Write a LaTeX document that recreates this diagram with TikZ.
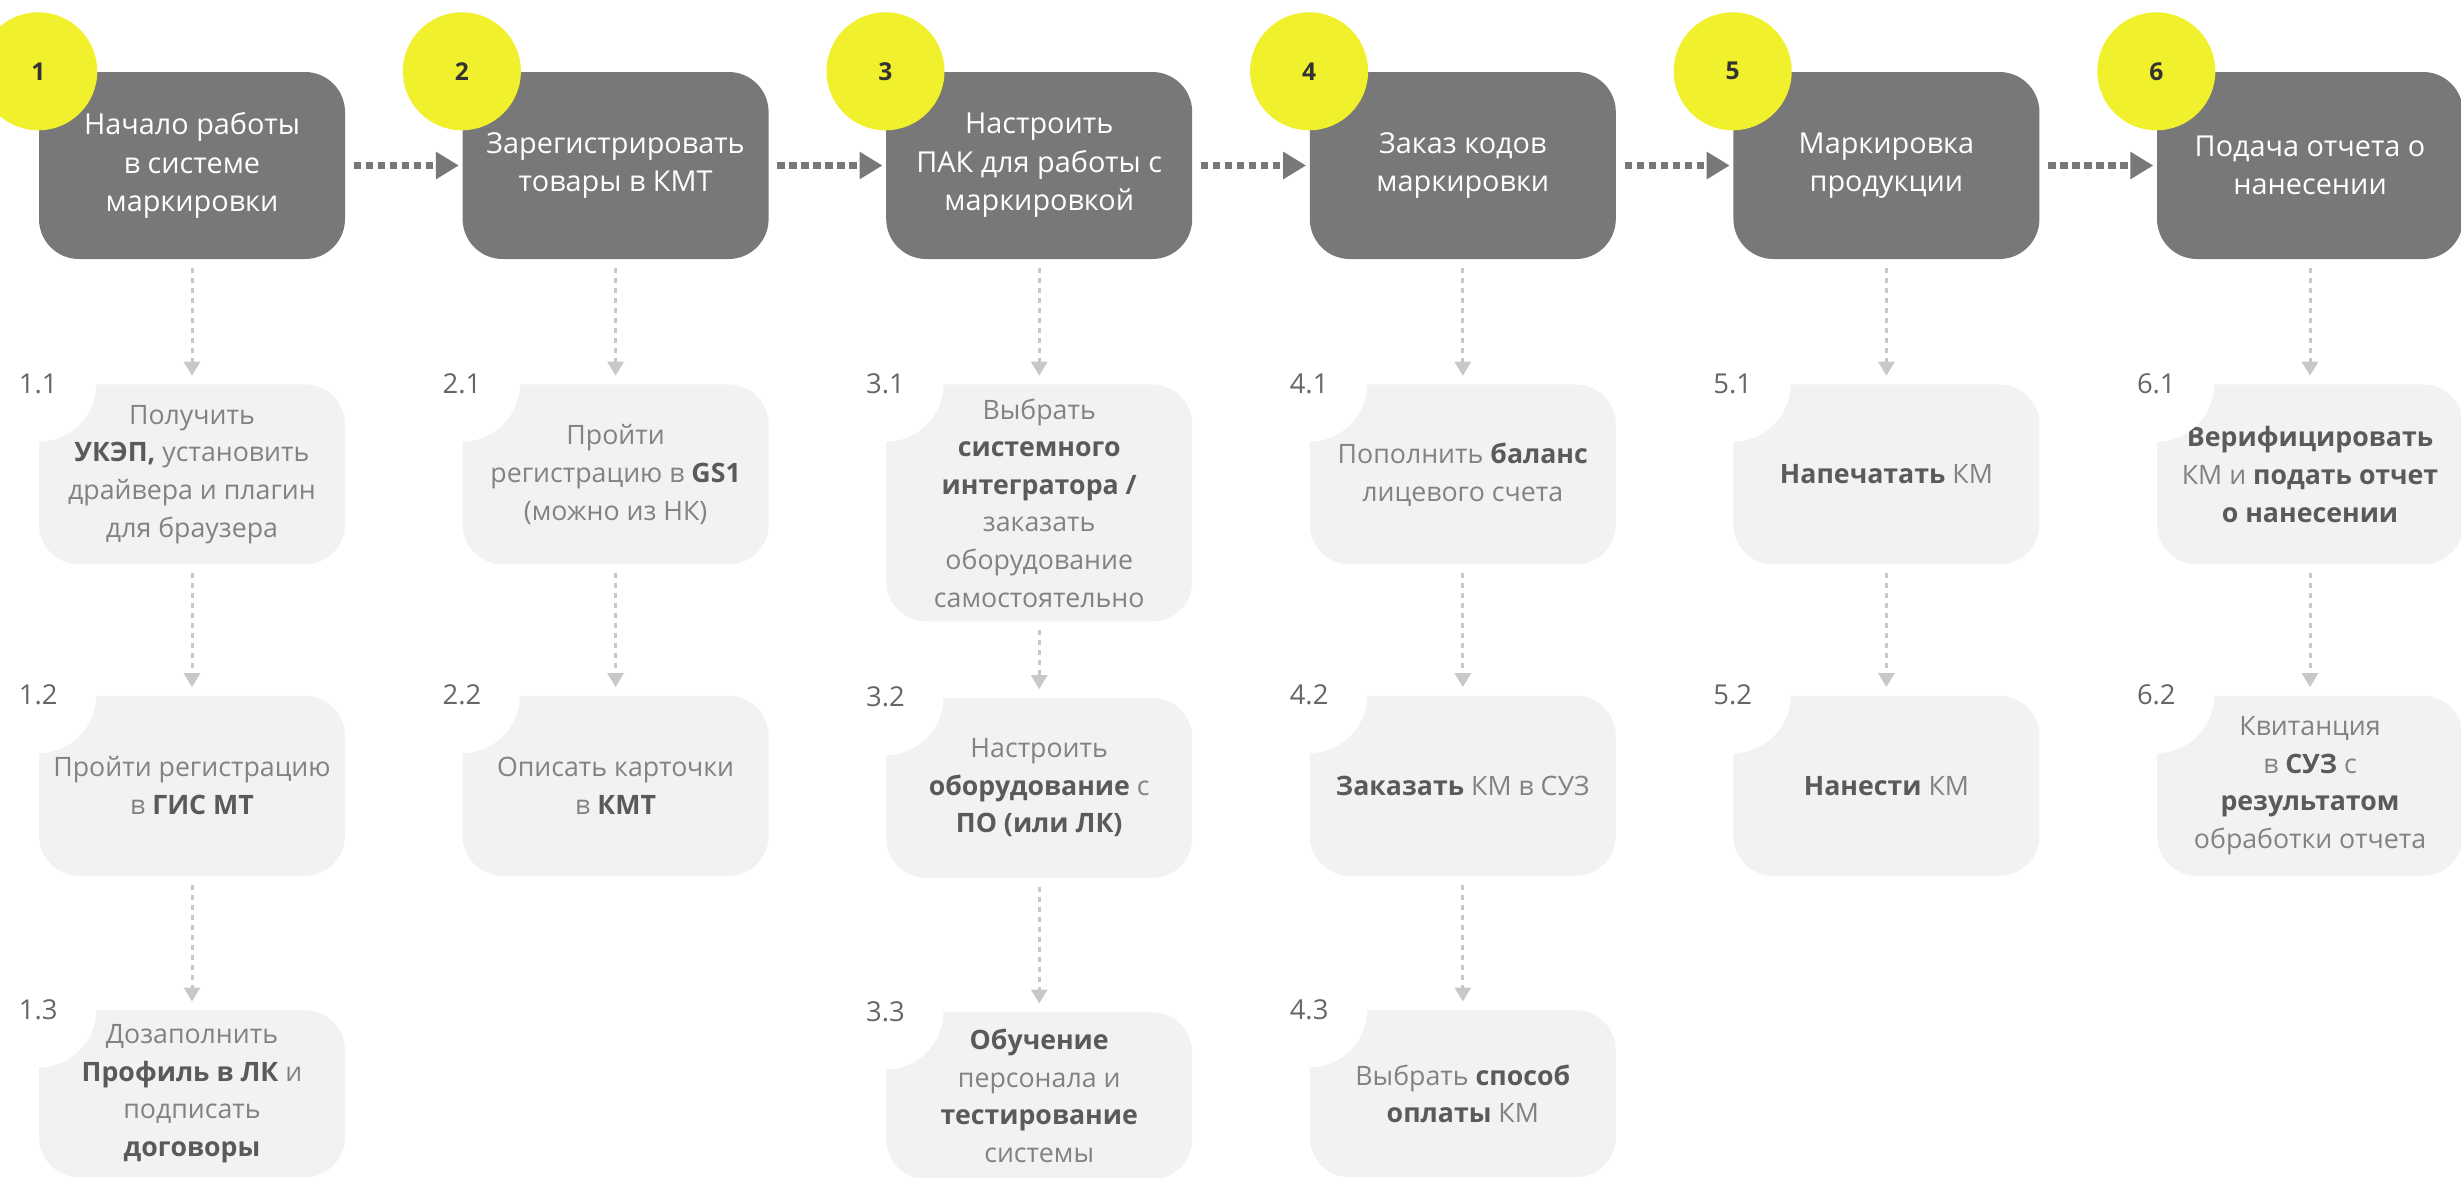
\documentclass[tikz,border=0pt]{standalone}
\usepackage{fontspec}
\setmainfont{Open Sans}
\usetikzlibrary{arrows.meta,positioning}
\definecolor{stepgray}{HTML}{787878}
\definecolor{subfill}{HTML}{F2F2F2}
\definecolor{subtext}{HTML}{828282}
\definecolor{subbold}{HTML}{5A5A5A}
\definecolor{marker}{HTML}{F0F02D}
\definecolor{linkgray}{HTML}{C8C8C8}
\newcommand{\kw}[1]{\textbf{\color{subbold}#1}}
\tikzset{
  stepbox/.style={fill=stepgray, rounded corners=4mm, minimum width=3.06cm,
    minimum height=1.87cm, align=center, text=white, inner sep=2pt,
    font=\fontsize{8.2}{11}\selectfont},
  subbox/.style={fill=subfill, rounded corners=4mm, minimum width=3.06cm,
    minimum height=1.8cm, align=center, text=subtext, inner sep=2pt,
    font=\fontsize{7.6}{10.7}\selectfont},
  numdot/.style={circle, fill=marker, minimum size=1.18cm, inner sep=0pt,
    text=black!80, font=\fontsize{7}{8}\selectfont\bfseries},
  numgap/.style={circle, fill=white, minimum size=1.16cm, inner sep=0pt,
    text=black!60, font=\fontsize{7.8}{9}\selectfont},
  mainarrw/.style={-{Triangle[length=2.3mm, width=2.6mm]}, draw=stepgray,
    line width=0.7mm, dash pattern=on 0.75mm off 0.45mm,
    shorten <=0.08cm, shorten >=0.03cm},
  subarrw/.style={-{Triangle[length=1.4mm, width=1.6mm]}, draw=linkgray,
    line width=0.3mm, dash pattern=on 0.5mm off 0.5mm,
    shorten <=0.08cm, shorten >=0.08cm},
}
\begin{document}
\begin{tikzpicture}[node distance=1.24cm and 1.162cm]
  \useasboundingbox (0,0) rectangle (24.61,-11.77);

  % main steps
  \node[stepbox] (st1) at (1.92,-1.655) {Начало работы\\в системе\\маркировки};
  \node[stepbox, right=of st1] (st2) {Зарегистрировать\\товары в КМТ};
  \node[stepbox, right=of st2] (st3) {Настроить\\ПАК для работы с\\маркировкой};
  \node[stepbox, right=of st3] (st4) {Заказ кодов\\маркировки};
  \node[stepbox, right=of st4] (st5) {Маркировка\\продукции};
  \node[stepbox, right=of st5] (st6) {Подача отчета о\\нанесении};

  % sub steps
  \node[subbox, below=of st1] (sub11)
    {Получить\\\kw{УКЭП,} установить\\драйвера и плагин\\для браузера};
  \node[subbox, below=1.3cm of sub11] (sub12)
    {Пройти регистрацию\\в \kw{ГИС МТ}};
  \node[subbox, below=1.33cm of sub12, minimum height=1.67cm] (sub13)
    {Дозаполнить\\\kw{Профиль в ЛК} и\\подписать\\\kw{договоры}};

  \node[subbox, below=of st2] (sub21)
    {Пройти\\регистрацию в \kw{GS1}\\(можно из НК)};
  \node[subbox, below=1.3cm of sub21] (sub22)
    {Описать карточки\\в \kw{КМТ}};

  \node[subbox, below=of st3, minimum height=2.37cm] (sub31)
    {Выбрать\\\kw{системного}\\\kw{интегратора /}\\заказать\\оборудование\\самостоятельно};
  \node[subbox, below=0.75cm of sub31] (sub32)
    {Настроить\\\kw{оборудование} с\\\kw{ПО (или ЛК)}};
  \node[subbox, below=1.33cm of sub32, minimum height=1.67cm] (sub33)
    {\kw{Обучение}\\персонала и\\\kw{тестирование}\\системы};

  \node[subbox, below=of st4] (sub41)
    {Пополнить \kw{баланс}\\лицевого счета};
  \node[subbox, below=1.3cm of sub41] (sub42)
    {\kw{Заказать} КМ в СУЗ};
  \node[subbox, below=1.33cm of sub42, minimum height=1.67cm] (sub43)
    {Выбрать \kw{способ}\\\kw{оплаты} КМ};

  \node[subbox, below=of st5] (sub51) {\kw{Напечатать} КМ};
  \node[subbox, below=1.3cm of sub51] (sub52) {\kw{Нанести} КМ};

  \node[subbox, below=of st6] (sub61)
    {\kw{Верифицировать}\\КМ и \kw{подать отчет}\\\kw{о нанесении}};
  \node[subbox, below=1.3cm of sub61] (sub62)
    {Квитанция\\в \kw{СУЗ} с\\\kw{результатом}\\обработки отчета};

  % step numbers
  \node[numdot] (num1) at (st1.north west) {1};
  \node[numdot] (num2) at (st2.north west) {2};
  \node[numdot] (num3) at (st3.north west) {3};
  \node[numdot] (num4) at (st4.north west) {4};
  \node[numdot] (num5) at (st5.north west) {5};
  \node[numdot] (num6) at (st6.north west) {6};

  \node[numgap] (lab11) at (sub11.north west) {1.1};
  \node[numgap] (lab12) at (sub12.north west) {1.2};
  \node[numgap] (lab13) at (sub13.north west) {1.3};
  \node[numgap] (lab21) at (sub21.north west) {2.1};
  \node[numgap] (lab22) at (sub22.north west) {2.2};
  \node[numgap] (lab31) at (sub31.north west) {3.1};
  \node[numgap] (lab32) at (sub32.north west) {3.2};
  \node[numgap] (lab33) at (sub33.north west) {3.3};
  \node[numgap] (lab41) at (sub41.north west) {4.1};
  \node[numgap] (lab42) at (sub42.north west) {4.2};
  \node[numgap] (lab43) at (sub43.north west) {4.3};
  \node[numgap] (lab51) at (sub51.north west) {5.1};
  \node[numgap] (lab52) at (sub52.north west) {5.2};
  \node[numgap] (lab61) at (sub61.north west) {6.1};
  \node[numgap] (lab62) at (sub62.north west) {6.2};

  % connectors
  \draw[mainarrw] (st1.east) -- (st2.west);
  \draw[mainarrw] (st2.east) -- (st3.west);
  \draw[mainarrw] (st3.east) -- (st4.west);
  \draw[mainarrw] (st4.east) -- (st5.west);
  \draw[mainarrw] (st5.east) -- (st6.west);

  \draw[subarrw] (st1.south) -- (sub11.north);
  \draw[subarrw] (sub11.south) -- (sub12.north);
  \draw[subarrw] (sub12.south) -- (sub13.north);
  \draw[subarrw] (st2.south) -- (sub21.north);
  \draw[subarrw] (sub21.south) -- (sub22.north);
  \draw[subarrw] (st3.south) -- (sub31.north);
  \draw[subarrw] (sub31.south) -- (sub32.north);
  \draw[subarrw] (sub32.south) -- (sub33.north);
  \draw[subarrw] (st4.south) -- (sub41.north);
  \draw[subarrw] (sub41.south) -- (sub42.north);
  \draw[subarrw] (sub42.south) -- (sub43.north);
  \draw[subarrw] (st5.south) -- (sub51.north);
  \draw[subarrw] (sub51.south) -- (sub52.north);
  \draw[subarrw] (st6.south) -- (sub61.north);
  \draw[subarrw] (sub61.south) -- (sub62.north);
\end{tikzpicture}
\end{document}
